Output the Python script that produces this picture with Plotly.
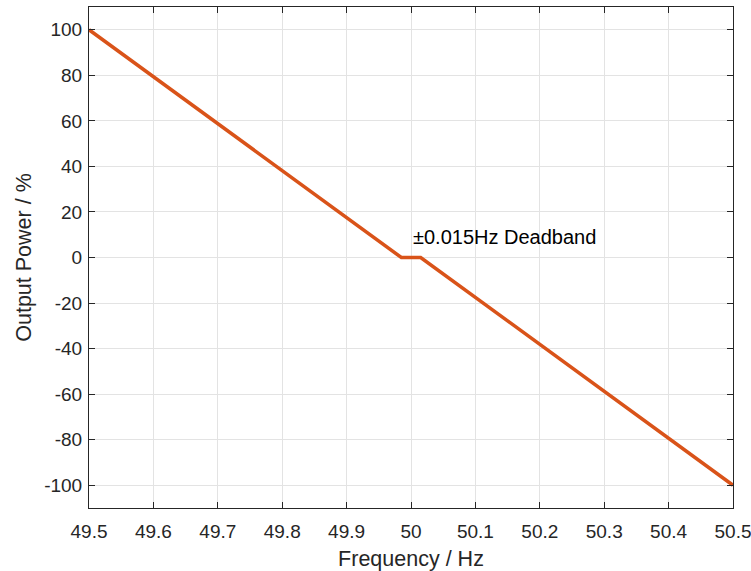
import plotly.graph_objects as go

# Droop curve with a symmetric deadband around nominal frequency
freq_hz = [49.5, 49.985, 50.015, 50.5]
power_pct = [100, 0, 0, -100]

x_ticks = [49.5, 49.6, 49.7, 49.8, 49.9, 50.0, 50.1, 50.2, 50.3, 50.4, 50.5]
x_tick_text = ["49.5", "49.6", "49.7", "49.8", "49.9", "50", "50.1", "50.2", "50.3", "50.4", "50.5"]
y_ticks = [-100, -80, -60, -40, -20, 0, 20, 40, 60, 80, 100]
y_tick_text = ["-100", "-80", "-60", "-40", "-20", "0", "20", "40", "60", "80", "100"]

label_text = "±0.015Hz Deadband"
label_x, label_y = 50.0, 9

axis_color = "#262626"
font_family = "Liberation Sans, Arial, sans-serif"

fig = go.Figure()
fig.add_trace(go.Scatter(
    x=freq_hz, y=power_pct, mode="lines",
    line=dict(color="#D95319", width=3.5),
    showlegend=False,
))

fig.add_annotation(
    x=label_x, y=label_y, text=label_text, showarrow=False,
    xanchor="left", yanchor="middle",
    font=dict(family=font_family, size=20, color="black"),
)

common = dict(
    showline=True, linecolor=axis_color, linewidth=1, mirror="allticks",
    ticks="inside", ticklen=6, tickcolor=axis_color, tickwidth=1,
    showgrid=True, gridcolor="#e3e3e3", gridwidth=1,
    zeroline=False, automargin=False, ticklabeloverflow="allow",
    tickfont=dict(family=font_family, size=19, color=axis_color),
)

fig.update_xaxes(
    range=[49.5, 50.5], tickvals=x_ticks, ticktext=x_tick_text,
    ticklabelstandoff=6,
    title=dict(text="Frequency / Hz", font=dict(family=font_family, size=21.5, color=axis_color), standoff=10),
    **common,
)
fig.update_yaxes(
    range=[-110, 110], tickvals=y_ticks, ticktext=y_tick_text,
    ticklabelstandoff=2,
    title=dict(text="Output Power / %", font=dict(family=font_family, size=21.5, color=axis_color), standoff=6),
    **common,
)

fig.update_layout(
    width=751, height=571,
    margin=dict(l=89, r=18, t=7, b=63),
    plot_bgcolor="white", paper_bgcolor="white",
)

fig.write_html("out.html")
